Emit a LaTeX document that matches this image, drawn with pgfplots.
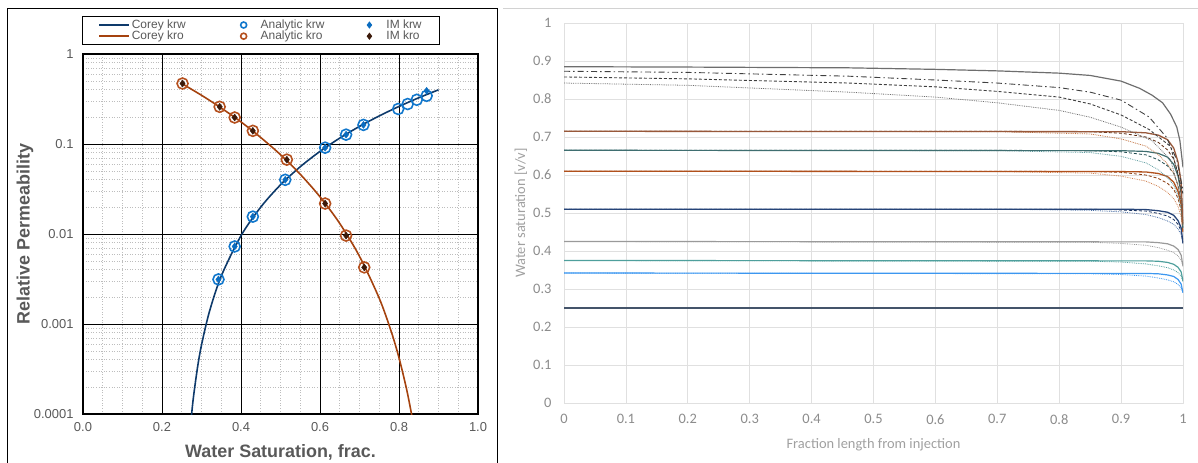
\documentclass[border=0pt]{standalone}
\usepackage{pgfplots}
\pgfplotsset{compat=1.18}
\usepackage{fontspec}
\setmainfont{Liberation Sans}
\newfontfamily\carlito{Carlito}

\definecolor{txtL}{HTML}{595959}
\definecolor{minorL}{HTML}{BDBDBD}
\definecolor{coreyW}{HTML}{0E3A6B}
\definecolor{coreyO}{HTML}{A5420E}
\definecolor{anaW}{HTML}{1177CC}
\definecolor{anaO}{HTML}{B5501E}
\definecolor{imW}{HTML}{0A6CC0}
\definecolor{imO}{HTML}{3C1A0A}

\definecolor{gridR}{HTML}{E0E0E0}
\definecolor{tickR}{HTML}{8C8C8C}
\definecolor{labR}{HTML}{A0A0A0}
\definecolor{slate}{HTML}{44546A}
\definecolor{blueR}{HTML}{3C97F0}
\definecolor{tealR}{HTML}{4E9F9C}
\definecolor{grayR}{HTML}{9A9A9A}
\definecolor{navyR}{HTML}{264478}
\definecolor{navyD}{HTML}{1A3360}
\definecolor{navyL}{HTML}{4A6FA5}
\definecolor{oranR}{HTML}{B0501C}
\definecolor{oranD}{HTML}{8A3A0E}
\definecolor{oranL}{HTML}{D08050}
\definecolor{dtealR}{HTML}{3F6E70}
\definecolor{dtealD}{HTML}{1F4B4E}
\definecolor{dtealL}{HTML}{5E9CA0}
\definecolor{brownR}{HTML}{98583A}
\definecolor{brownD}{HTML}{5C2A10}
\definecolor{brownL}{HTML}{C0703C}
\definecolor{topS}{HTML}{6E6E6E}
\definecolor{topD}{HTML}{404040}

\begin{document}
\begin{tikzpicture}
\useasboundingbox (0bp,0bp) rectangle (1198bp,463bp);
% frames
\draw[black, line width=1pt] (7bp,0bp) -- (7bp,454bp) -- (497bp,454bp) -- (497bp,0bp);
\draw[gray!35, line width=0.8pt] (503bp,455bp) -- (1198bp,455bp);

% ---------------- left: relative permeability ----------------
\begin{axis}[
  at={(83bp,49bp)}, anchor=south west, scale only axis,
  width=395bp, height=360bp,
  xmin=0, xmax=1, ymode=log, ymin=1e-4, ymax=1,
  xtick={0,0.2,0.4,0.6,0.8,1}, xticklabels={0.0,0.2,0.4,0.6,0.8,1.0},
  minor xtick={0.05,0.1,0.15,0.25,0.3,0.35,0.45,0.5,0.55,0.65,0.7,0.75,0.85,0.9,0.95},
  extra x ticks={0.2,0.4,0.6,0.8}, extra x tick labels={},
  extra x tick style={grid=major, major grid style={black, line width=0.9pt}},
  ytick={0.0001,0.001,0.01,0.1,1}, yticklabels={0.0001,0.001,0.01,0.1,1},
  minor ytick={2e-4,3e-4,4e-4,5e-4,6e-4,7e-4,8e-4,9e-4,
               2e-3,3e-3,4e-3,5e-3,6e-3,7e-3,8e-3,9e-3,
               2e-2,3e-2,4e-2,5e-2,6e-2,7e-2,8e-2,9e-2,
               0.2,0.3,0.4,0.5,0.6,0.7,0.8,0.9},
  grid=both,
  major grid style={black, line width=0.9pt},
  minor grid style={minorL, dash pattern=on 0.8bp off 1.8bp, line width=0.7pt},
  axis line style={black, line width=1.1pt},
  tick style={draw=none},
  ticklabel style={font=\fontsize{13}{15}\selectfont, text=txtL},
  xticklabel style={yshift=-5bp},
  yticklabel style={xshift=-6bp},
  xlabel={Water Saturation, frac.},
  ylabel={Relative Permeability},
  every axis x label/.style={at={(rel axis cs:0.5,0)}, yshift=-38bp, anchor=center,
    font=\bfseries\fontsize{18}{20}\selectfont, text=txtL},
  every axis y label/.style={at={(rel axis cs:0,0.5)}, xshift=-58bp, rotate=90, anchor=center,
    font=\bfseries\fontsize{18}{20}\selectfont, text=txtL},
  legend columns=3,
  legend cell align=left,
  legend image code/.code={\path[draw=none] (0bp,0bp) -- (30bp,0bp);
    \draw[mark repeat=2,mark phase=2,#1] plot coordinates {(0bp,0bp)(15bp,0bp)(30bp,0bp)};},
  legend image post style={mark size=3bp},
  legend style={at={(0.4505,1.065)}, anchor=center, draw=black, line width=0.8pt,
    font=\fontsize{12}{13}\selectfont, text=txtL, inner xsep=16bp, inner ysep=1.5bp,
    row sep=-3bp,
    nodes={inner sep=2bp},
    /tikz/column 2/.style={column sep=41bp},
    /tikz/column 4/.style={column sep=28bp}},
]
\addplot[coreyW, line width=1.6pt, smooth] coordinates {
 (0.272,7.2e-5) (0.275,1.0e-4) (0.28,1.59e-4) (0.29,3.31e-4) (0.30,5.85e-4) (0.32,1.37e-3)
 (0.35,3.41e-3) (0.40,9.58e-3) (0.45,0.0199) (0.50,0.0352) (0.55,0.0559) (0.60,0.0828)
 (0.65,0.1163) (0.70,0.1569) (0.75,0.2052) (0.80,0.2614) (0.85,0.3263) (0.90,0.40)};
\addlegendentry{Corey krw}
\addplot[only marks, mark=o, mark size=5.5bp, mark options={draw=anaW, line width=1.6pt}] coordinates {
 (0.343,0.00313) (0.384,0.00727) (0.43,0.0156) (0.512,0.040) (0.613,0.091) (0.666,0.127)
 (0.71,0.163) (0.798,0.245) (0.822,0.278) (0.845,0.31) (0.87,0.343)};
\addlegendentry{Analytic krw}
\addplot[only marks, mark=diamond*, mark size=3.5bp, mark options={draw=imW, fill=imW}] coordinates {
 (0.343,0.00313) (0.384,0.00727) (0.43,0.0156) (0.512,0.040) (0.613,0.091) (0.666,0.127)
 (0.71,0.163) (0.87,0.39)};
\addlegendentry{IM krw\hspace{22bp}}
\addplot[coreyO, line width=1.6pt, smooth] coordinates {
 (0.25,0.47) (0.30,0.348) (0.35,0.251) (0.40,0.176) (0.45,0.118) (0.50,0.0761) (0.55,0.0461)
 (0.60,0.0259) (0.65,0.0131) (0.70,0.00565) (0.75,0.00193) (0.78,0.000833) (0.80,0.000421)
 (0.82,0.000182) (0.835,0.0000836)};
\addlegendentry{Corey kro}
\addplot[only marks, mark=o, mark size=5.5bp, mark options={draw=anaO, line width=1.6pt}] coordinates {
 (0.252,0.47) (0.346,0.259) (0.384,0.197) (0.43,0.140) (0.516,0.067) (0.613,0.0218)
 (0.666,0.0096) (0.712,0.00426)};
\addlegendentry{Analytic kro}
\addplot[only marks, mark=diamond*, mark size=3.5bp, mark options={draw=imO, fill=imO}] coordinates {
 (0.252,0.47) (0.346,0.259) (0.384,0.197) (0.43,0.140) (0.516,0.067) (0.613,0.0218)
 (0.666,0.0096) (0.712,0.00426)};
\addlegendentry{IM kro}
\end{axis}

% ---------------- right: saturation profiles ----------------
\begin{axis}[
  at={(564bp,60bp)}, anchor=south west, scale only axis,
  width=619bp, height=380bp,
  xmin=0, xmax=1, ymin=0, ymax=1,
  xtick={0,0.1,0.2,0.3,0.4,0.5,0.6,0.7,0.8,0.9,1},
  ytick={0,0.1,0.2,0.3,0.4,0.5,0.6,0.7,0.8,0.9,1},
  grid=major,
  major grid style={gridR, line width=0.8pt},
  axis line style={gridR, line width=0.8pt},
  tick style={draw=none},
  /pgf/number format/assume math mode=true,
  ticklabel style={font=\carlito\fontsize{14.5}{16}\selectfont, text=tickR},
  xticklabel style={yshift=-8bp},
  yticklabel style={xshift=-9bp},
  xlabel={Fraction length from injection},
  ylabel={Water saturation [v/v]},
  every axis x label/.style={at={(rel axis cs:0.5,0)}, yshift=-42bp, anchor=center,
    font=\carlito\fontsize{14.5}{16}\selectfont, text=labR},
  every axis y label/.style={at={(rel axis cs:0,0.5)}, xshift=-43bp, rotate=90, anchor=center,
    font=\carlito\fontsize{14.5}{16}\selectfont, text=labR},
  line join=round,
]
% lowest level
\addplot[slate, line width=2pt] coordinates {(0,0.25) (1,0.25)};
% 0.342 level
\addplot[blueR, line width=0.8pt, densely dotted] coordinates {
 (0,0.342) (0.85,0.340) (0.9,0.338) (0.94,0.334) (0.96,0.329) (0.975,0.324) (0.985,0.319) (0.992,0.312) (0.997,0.303) (1,0.29)};
\addplot[blueR, line width=1.2pt] coordinates {
 (0,0.342) (0.94,0.341) (0.96,0.340) (0.975,0.337) (0.985,0.333) (0.992,0.325) (0.997,0.313) (1,0.29)};
% 0.375 level
\addplot[tealR, line width=0.8pt, densely dotted] coordinates {
 (0,0.375) (0.85,0.373) (0.9,0.371) (0.94,0.366) (0.96,0.361) (0.975,0.356) (0.985,0.350) (0.992,0.343) (0.997,0.334) (1,0.32)};
\addplot[tealR, line width=1.2pt] coordinates {
 (0,0.375) (0.94,0.374) (0.96,0.373) (0.975,0.370) (0.985,0.365) (0.992,0.357) (0.997,0.345) (1,0.32)};
% 0.425 level
\addplot[grayR, line width=0.8pt, densely dotted] coordinates {
 (0,0.425) (0.85,0.423) (0.9,0.420) (0.94,0.415) (0.96,0.409) (0.975,0.402) (0.985,0.396) (0.992,0.387) (0.997,0.376) (1,0.36)};
\addplot[grayR, line width=1.2pt] coordinates {
 (0,0.425) (0.94,0.424) (0.96,0.422) (0.975,0.419) (0.985,0.413) (0.992,0.404) (0.997,0.389) (1,0.36)};
% 0.51 level
\addplot[navyL, line width=0.8pt, densely dotted] coordinates {
 (0,0.51) (0.7,0.510) (0.85,0.507) (0.9,0.503) (0.94,0.496) (0.96,0.488) (0.975,0.479) (0.985,0.470) (0.992,0.458) (0.997,0.443) (1,0.42)};
\addplot[navyD, line width=0.8pt, dash pattern=on 3bp off 2bp] coordinates {
 (0,0.51) (0.7,0.51) (0.85,0.510) (0.9,0.508) (0.94,0.505) (0.96,0.499) (0.975,0.492) (0.985,0.483) (0.992,0.470) (0.997,0.452) (1,0.42)};
\addplot[navyR, line width=1.3pt] coordinates {
 (0,0.51) (0.9,0.510) (0.94,0.509) (0.96,0.506) (0.975,0.502) (0.985,0.494) (0.992,0.480) (0.997,0.461) (1,0.42)};
% 0.61 level
\addplot[oranL, line width=0.8pt, densely dotted] coordinates {
 (0,0.61) (0.7,0.609) (0.85,0.605) (0.9,0.597) (0.94,0.584) (0.96,0.570) (0.975,0.554) (0.985,0.538) (0.992,0.517) (0.997,0.490) (1,0.45)};
\addplot[oranD, line width=0.8pt, dash pattern=on 3bp off 2bp] coordinates {
 (0,0.61) (0.7,0.61) (0.85,0.609) (0.9,0.607) (0.94,0.600) (0.96,0.591) (0.975,0.578) (0.985,0.562) (0.992,0.538) (0.997,0.506) (1,0.45)};
\addplot[oranR, line width=1.3pt] coordinates {
 (0,0.61) (0.9,0.609) (0.94,0.608) (0.96,0.604) (0.975,0.596) (0.985,0.581) (0.992,0.557) (0.997,0.522) (1,0.45)};
% 0.665 level
\addplot[dtealL, line width=0.8pt, densely dotted] coordinates {
 (0,0.665) (0.7,0.664) (0.85,0.659) (0.9,0.649) (0.94,0.632) (0.96,0.614) (0.975,0.593) (0.985,0.573) (0.992,0.546) (0.997,0.511) (1,0.46)};
\addplot[dtealD, line width=0.8pt, dash pattern=on 3bp off 2bp] coordinates {
 (0,0.665) (0.7,0.665) (0.85,0.664) (0.9,0.661) (0.94,0.653) (0.96,0.640) (0.975,0.624) (0.985,0.604) (0.992,0.573) (0.997,0.532) (1,0.46)};
\addplot[dtealR, line width=1.2pt] coordinates {
 (0,0.665) (0.9,0.664) (0.94,0.662) (0.96,0.657) (0.975,0.647) (0.985,0.628) (0.992,0.597) (0.997,0.552) (1,0.46)};
% 0.715 level
\addplot[brownL, line width=0.8pt, densely dotted] coordinates {
 (0,0.715) (0.7,0.714) (0.85,0.708) (0.9,0.695) (0.94,0.676) (0.96,0.654) (0.975,0.629) (0.985,0.605) (0.992,0.573) (0.997,0.531) (1,0.47)};
\addplot[brownD, line width=0.8pt, dash pattern=on 3bp off 2bp] coordinates {
 (0,0.715) (0.7,0.715) (0.85,0.714) (0.9,0.710) (0.94,0.700) (0.96,0.686) (0.975,0.666) (0.985,0.642) (0.992,0.605) (0.997,0.556) (1,0.47)};
\addplot[brownR, line width=1.3pt] coordinates {
 (0,0.715) (0.9,0.714) (0.94,0.711) (0.96,0.705) (0.975,0.693) (0.985,0.671) (0.992,0.634) (0.997,0.580) (1,0.47)};
% upper group
\addplot[topS, line width=0.8pt, densely dotted] coordinates {
 (0,0.842) (0.2,0.836) (0.46,0.818) (0.6,0.805) (0.7,0.790) (0.8,0.770) (0.85,0.752) (0.9,0.726) (0.95,0.690) (0.98,0.640) (1,0.52)};
\addplot[topD, line width=0.9pt, dash pattern=on 3bp off 2bp] coordinates {
 (0,0.858) (0.2,0.853) (0.46,0.842) (0.6,0.832) (0.7,0.820) (0.8,0.805) (0.85,0.787) (0.9,0.758) (0.945,0.720) (0.98,0.675) (1,0.55)};
\addplot[topD, line width=0.9pt, dash pattern=on 6bp off 3bp on 1.5bp off 3bp] coordinates {
 (0,0.873) (0.2,0.870) (0.46,0.860) (0.6,0.850) (0.7,0.842) (0.8,0.830) (0.85,0.818) (0.9,0.797) (0.945,0.753) (0.973,0.700) (0.99,0.640) (1,0.56)};
\addplot[topS, line width=1.2pt] coordinates {
 (0,0.885) (0.2,0.884) (0.46,0.882) (0.6,0.878) (0.7,0.874) (0.8,0.868) (0.85,0.862) (0.9,0.847) (0.93,0.828) (0.95,0.810) (0.967,0.790) (0.98,0.760) (0.99,0.726) (0.995,0.690) (1,0.62)};
\end{axis}
\end{tikzpicture}
\end{document}
